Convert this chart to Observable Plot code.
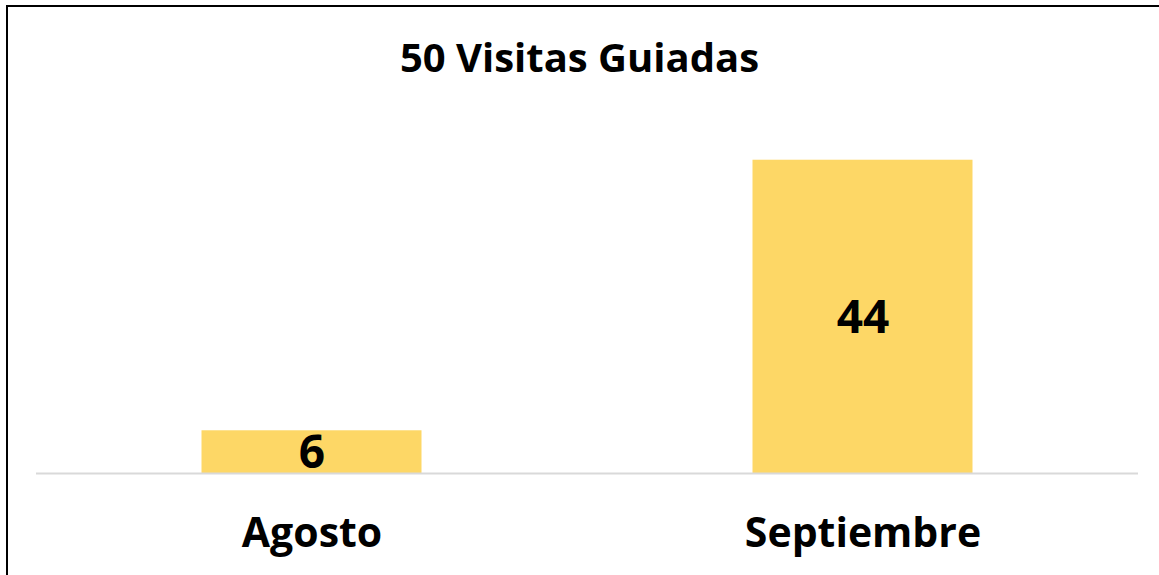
<!DOCTYPE html>
<html>
<head>
<meta charset="utf-8">
<script src="https://cdn.jsdelivr.net/npm/d3@7"></script>
<script src="https://cdn.jsdelivr.net/npm/@observablehq/plot@0.6"></script>
<style>
  html, body { margin: 0; padding: 0; background: #fff; }
  #wrap { position: relative; width: 1159px; height: 575px; overflow: hidden; background: #fff; font-family: "Open Sans", sans-serif; }
  #bl { position: absolute; left: 6px; top: 5px; width: 2px; height: 570px; background: #000; }
  #bt { position: absolute; left: 6px; top: 5px; width: 1153px; height: 2px; background: #000; }
  #title { position: absolute; left: 0; top: 0; width: 1159px; height: 100px; text-align: center; font-weight: 700; font-size: 40px; line-height: 114px; color: #000; }
  #chart { position: absolute; left: 0; top: 100px; }
</style>
</head>
<body>
<div id="wrap">
  <div id="bl"></div>
  <div id="bt"></div>
  <div id="title">50 Visitas Guiadas</div>
  <div id="chart"></div>
</div>
<script>
const months = ["Agosto", "Septiembre"];
const visits = [6, 44];
const data = months.map((m, i) => ({month: m, value: visits[i]}));

const chart = Plot.plot({
  width: 1159,
  height: 475,
  marginLeft: 36,
  marginRight: 21,
  marginTop: 17,
  marginBottom: 102,
  style: {fontFamily: "Open Sans, sans-serif", background: "transparent", overflow: "visible"},
  x: {domain: months, padding: 0, label: null},
  y: {domain: [0, 50], axis: null},
  marks: [
    Plot.barY(data, {x: "month", y: "value", fill: "#FDD766", insetLeft: 165.5, insetRight: 165.5}),
    Plot.ruleY([0], {stroke: "#d9d9d9", strokeWidth: 2}),
    Plot.text(data, {x: "month", y: d => d.value / 2, text: d => String(d.value), fontSize: 46, fontWeight: "bold", fill: "#000", dy: 1}),
    Plot.axisX({tickSize: 0, tickPadding: 44, fontSize: 41, fontWeight: "bold", fill: "#000", label: null})
  ]
});
document.getElementById("chart").appendChild(chart);
</script>
</body>
</html>
